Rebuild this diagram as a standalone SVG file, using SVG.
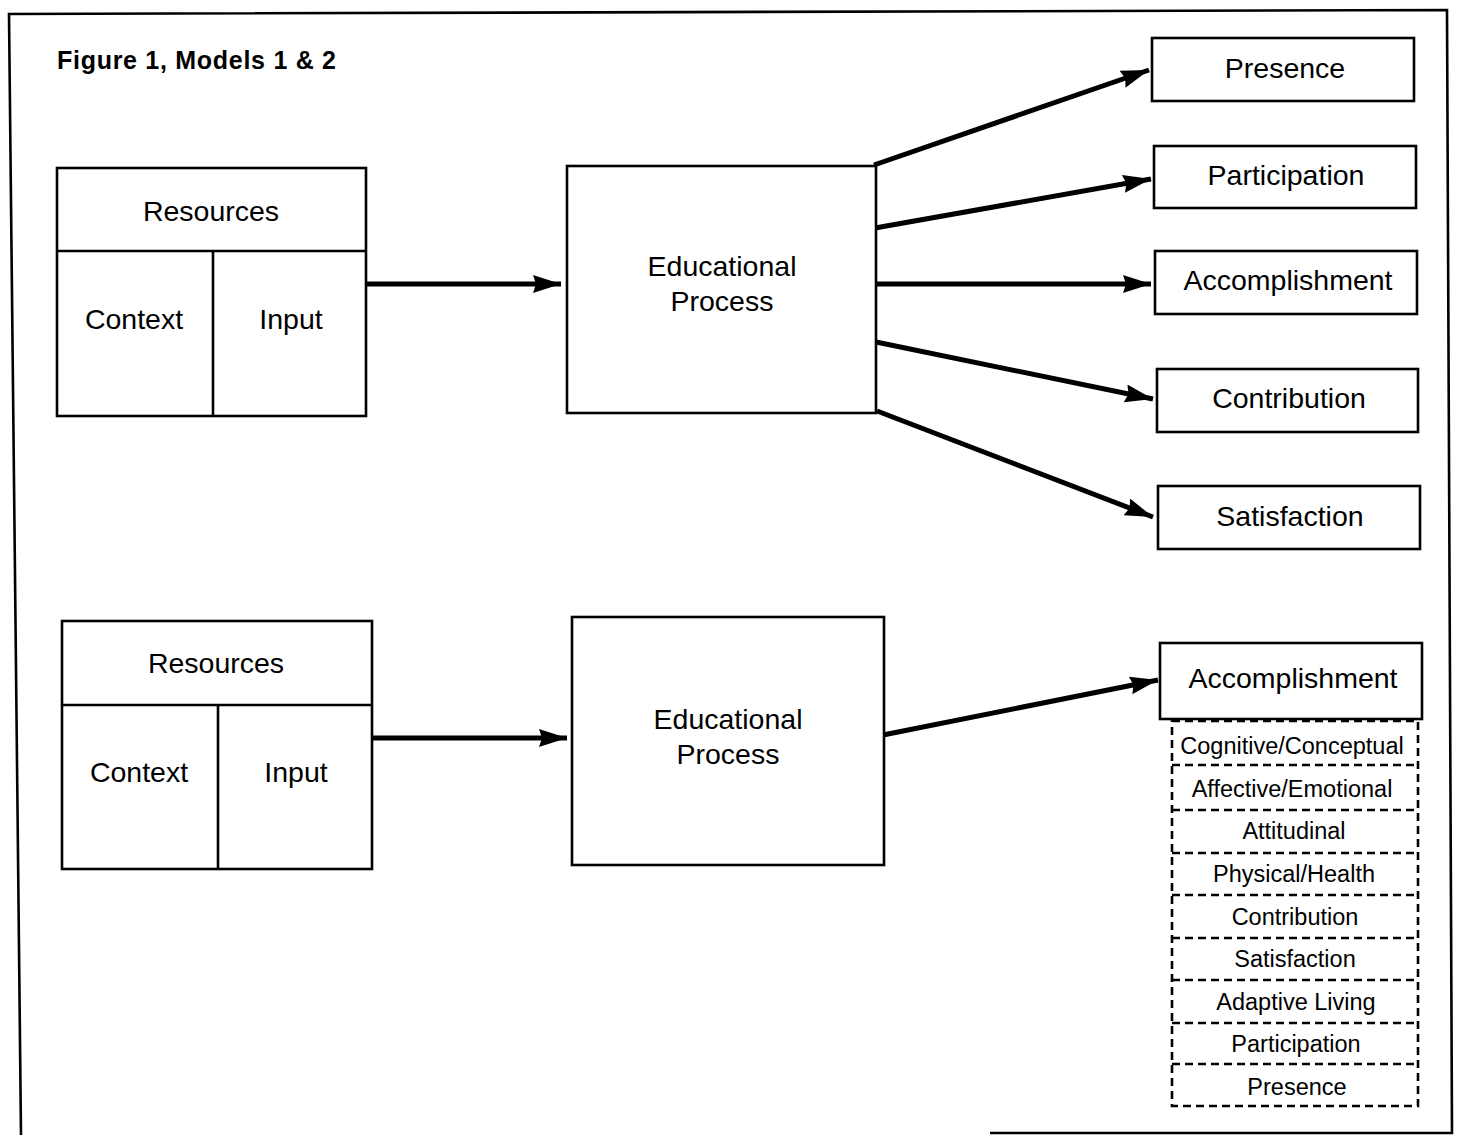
<svg xmlns="http://www.w3.org/2000/svg" width="1464" height="1135" viewBox="0 0 1464 1135">
<defs>
<style>
.bx{fill:#fff;stroke:#000;stroke-width:2.6}
.ln{fill:none;stroke:#000;stroke-width:2.6}
.dl{fill:none;stroke:#000;stroke-width:2.6;stroke-dasharray:8 5}
.ar{fill:none;stroke:#000;stroke-width:5}
.t{font-family:"Liberation Sans",Arial,Helvetica,sans-serif;font-size:28.5px;fill:#000;text-anchor:middle}
.s{font-family:"Liberation Sans",Arial,Helvetica,sans-serif;font-size:23.5px;fill:#000;text-anchor:middle}
.ttl{font-family:"Liberation Sans",Arial,Helvetica,sans-serif;font-size:25px;font-weight:bold;fill:#000}
</style>
<marker id="ah" markerUnits="userSpaceOnUse" markerWidth="30" markerHeight="20" refX="28" refY="9" orient="auto">
<path d="M0,0 L28,9 L0,18 L3,9 z" fill="#000"/>
</marker>
</defs>
<rect x="0" y="0" width="1464" height="1135" fill="#fff"/>
<g id="frame">
<polyline class="ln" points="21,1135 9,14 1447,10 1452,1133 990,1133"/>
</g>
<text id="title" class="ttl" x="57" y="69" textLength="279" lengthAdjust="spacing">Figure 1, Models 1 &amp; 2</text>

<g id="connectors">
<line class="ar" x1="367" y1="284" x2="561" y2="284" marker-end="url(#ah)"/>
<line class="ar" x1="874" y1="165" x2="1149" y2="70" marker-end="url(#ah)"/>
<line class="ar" x1="875" y1="228" x2="1151" y2="179" marker-end="url(#ah)"/>
<line class="ar" x1="875" y1="284" x2="1151" y2="284" marker-end="url(#ah)"/>
<line class="ar" x1="876" y1="342" x2="1153" y2="399" marker-end="url(#ah)"/>
<line class="ar" x1="877" y1="411" x2="1153" y2="517" marker-end="url(#ah)"/>
<line class="ar" x1="373" y1="738" x2="567" y2="738" marker-end="url(#ah)"/>
<line class="ar" x1="883" y1="735" x2="1158" y2="680" marker-end="url(#ah)"/>
</g>

<g id="resources1">
<rect class="bx" x="57" y="168" width="309" height="248"/>
<line class="ln" x1="57" y1="251" x2="366" y2="251"/>
<line class="ln" x1="213" y1="251" x2="213" y2="416"/>
<text class="t" x="211" y="221">Resources</text>
<text class="t" x="134" y="329">Context</text>
<text class="t" x="291" y="329">Input</text>
</g>

<g id="process1">
<rect class="bx" x="567" y="166" width="309" height="247"/>
<text class="t" x="722" y="276">Educational</text>
<text class="t" x="722" y="311">Process</text>
</g>

<g id="presence1">
<rect class="bx" x="1152" y="38" width="262" height="63"/>
<text class="t" x="1285" y="78">Presence</text>
</g>
<g id="participation1">
<rect class="bx" x="1154" y="146" width="262" height="62"/>
<text class="t" x="1286" y="185">Participation</text>
</g>
<g id="accomplishment1">
<rect class="bx" x="1155" y="251" width="262" height="63"/>
<text class="t" x="1288" y="290">Accomplishment</text>
</g>
<g id="contribution1">
<rect class="bx" x="1157" y="369" width="261" height="63"/>
<text class="t" x="1289" y="408">Contribution</text>
</g>
<g id="satisfaction1">
<rect class="bx" x="1158" y="486" width="262" height="63"/>
<text class="t" x="1290" y="526">Satisfaction</text>
</g>

<g id="resources2">
<rect class="bx" x="62" y="621" width="310" height="248"/>
<line class="ln" x1="62" y1="705" x2="372" y2="705"/>
<line class="ln" x1="218" y1="705" x2="218" y2="869"/>
<text class="t" x="216" y="673">Resources</text>
<text class="t" x="139" y="782">Context</text>
<text class="t" x="296" y="782">Input</text>
</g>

<g id="process2">
<rect class="bx" x="572" y="617" width="312" height="248"/>
<text class="t" x="728" y="729">Educational</text>
<text class="t" x="728" y="764">Process</text>
</g>

<g id="accomplishment2">
<rect class="bx" x="1160" y="643" width="262" height="76"/>
<text class="t" x="1293" y="688">Accomplishment</text>
</g>

<g id="sublist">
<rect class="dl" x="1172" y="721" width="246" height="385"/>
<line class="dl" x1="1172" y1="765" x2="1418" y2="765"/>
<line class="dl" x1="1172" y1="810" x2="1418" y2="810"/>
<line class="dl" x1="1172" y1="853" x2="1418" y2="853"/>
<line class="dl" x1="1172" y1="895" x2="1418" y2="895"/>
<line class="dl" x1="1172" y1="938" x2="1418" y2="938"/>
<line class="dl" x1="1172" y1="980" x2="1418" y2="980"/>
<line class="dl" x1="1172" y1="1023" x2="1418" y2="1023"/>
<line class="dl" x1="1172" y1="1064" x2="1418" y2="1064"/>
</g>
<g id="item-cognitive"><text class="s" x="1292" y="754">Cognitive/Conceptual</text></g>
<g id="item-affective"><text class="s" x="1292" y="797">Affective/Emotional</text></g>
<g id="item-attitudinal"><text class="s" x="1294" y="839">Attitudinal</text></g>
<g id="item-physical"><text class="s" x="1294" y="882">Physical/Health</text></g>
<g id="item-contribution"><text class="s" x="1295" y="925">Contribution</text></g>
<g id="item-satisfaction"><text class="s" x="1295" y="967">Satisfaction</text></g>
<g id="item-adaptive"><text class="s" x="1296" y="1010">Adaptive Living</text></g>
<g id="item-participation"><text class="s" x="1296" y="1052">Participation</text></g>
<g id="item-presence"><text class="s" x="1297" y="1095">Presence</text></g>
</svg>
